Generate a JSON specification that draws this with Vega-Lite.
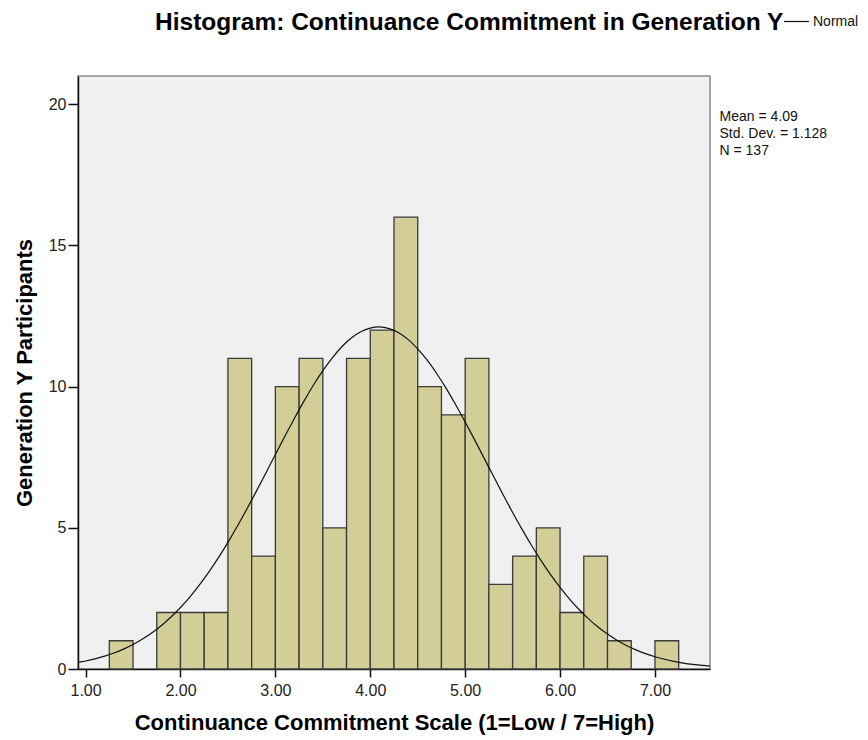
{
  "$schema": "https://vega.github.io/schema/vega-lite/v6.json",
  "autosize": "none",
  "width": 632,
  "height": 593,
  "padding": {"left": 78, "top": 76, "right": 158, "bottom": 71},
  "background": "white",
  "config": {
    "font": "Liberation Sans",
    "view": {"fill": "#f0f0f0", "stroke": "#8a8a8a", "strokeWidth": 1.5},
    "axis": {
      "grid": false,
      "domainColor": "#111",
      "domainWidth": 1.5,
      "tickColor": "#111",
      "tickWidth": 1.5,
      "labelFont": "Liberation Sans",
      "labelFontSize": 16,
      "labelColor": "#222",
      "titleFont": "Liberation Sans",
      "titleFontSize": 22,
      "titleFontWeight": "bold",
      "titleColor": "#000"
    }
  },
  "title": {
    "text": "Histogram: Continuance Commitment in Generation Y",
    "font": "Liberation Sans",
    "fontSize": 24.5,
    "fontWeight": "bold",
    "color": "#000",
    "anchor": "start",
    "frame": "group",
    "dx": 77,
    "dy": 67,
    "offset": 40
  },
  "datasets": {
    "bins": [
      {"bin_start": 1.25, "bin_end": 1.5, "count": 1},
      {"bin_start": 1.75, "bin_end": 2.0, "count": 2},
      {"bin_start": 2.0, "bin_end": 2.25, "count": 2},
      {"bin_start": 2.25, "bin_end": 2.5, "count": 2},
      {"bin_start": 2.5, "bin_end": 2.75, "count": 11},
      {"bin_start": 2.75, "bin_end": 3.0, "count": 4},
      {"bin_start": 3.0, "bin_end": 3.25, "count": 10},
      {"bin_start": 3.25, "bin_end": 3.5, "count": 11},
      {"bin_start": 3.5, "bin_end": 3.75, "count": 5},
      {"bin_start": 3.75, "bin_end": 4.0, "count": 11},
      {"bin_start": 4.0, "bin_end": 4.25, "count": 12},
      {"bin_start": 4.25, "bin_end": 4.5, "count": 16},
      {"bin_start": 4.5, "bin_end": 4.75, "count": 10},
      {"bin_start": 4.75, "bin_end": 5.0, "count": 9},
      {"bin_start": 5.0, "bin_end": 5.25, "count": 11},
      {"bin_start": 5.25, "bin_end": 5.5, "count": 3},
      {"bin_start": 5.5, "bin_end": 5.75, "count": 4},
      {"bin_start": 5.75, "bin_end": 6.0, "count": 5},
      {"bin_start": 6.0, "bin_end": 6.25, "count": 2},
      {"bin_start": 6.25, "bin_end": 6.5, "count": 4},
      {"bin_start": 6.5, "bin_end": 6.75, "count": 1},
      {"bin_start": 7.0, "bin_end": 7.25, "count": 1}
    ],
    "normal": [
      {"score": 0.9, "frequency": 0.222, "series": "Normal"},
      {"score": 1.0, "frequency": 0.284, "series": "Normal"},
      {"score": 1.1, "frequency": 0.361, "series": "Normal"},
      {"score": 1.2, "frequency": 0.455, "series": "Normal"},
      {"score": 1.3, "frequency": 0.568, "series": "Normal"},
      {"score": 1.4, "frequency": 0.705, "series": "Normal"},
      {"score": 1.5, "frequency": 0.868, "series": "Normal"},
      {"score": 1.6, "frequency": 1.06, "series": "Normal"},
      {"score": 1.7, "frequency": 1.284, "series": "Normal"},
      {"score": 1.8, "frequency": 1.543, "series": "Normal"},
      {"score": 1.9, "frequency": 1.84, "series": "Normal"},
      {"score": 2.0, "frequency": 2.177, "series": "Normal"},
      {"score": 2.1, "frequency": 2.556, "series": "Normal"},
      {"score": 2.2, "frequency": 2.976, "series": "Normal"},
      {"score": 2.3, "frequency": 3.439, "series": "Normal"},
      {"score": 2.4, "frequency": 3.944, "series": "Normal"},
      {"score": 2.5, "frequency": 4.486, "series": "Normal"},
      {"score": 2.6, "frequency": 5.063, "series": "Normal"},
      {"score": 2.7, "frequency": 5.669, "series": "Normal"},
      {"score": 2.8, "frequency": 6.299, "series": "Normal"},
      {"score": 2.9, "frequency": 6.943, "series": "Normal"},
      {"score": 3.0, "frequency": 7.595, "series": "Normal"},
      {"score": 3.1, "frequency": 8.241, "series": "Normal"},
      {"score": 3.2, "frequency": 8.873, "series": "Normal"},
      {"score": 3.3, "frequency": 9.479, "series": "Normal"},
      {"score": 3.4, "frequency": 10.047, "series": "Normal"},
      {"score": 3.5, "frequency": 10.564, "series": "Normal"},
      {"score": 3.6, "frequency": 11.022, "series": "Normal"},
      {"score": 3.7, "frequency": 11.411, "series": "Normal"},
      {"score": 3.8, "frequency": 11.719, "series": "Normal"},
      {"score": 3.9, "frequency": 11.942, "series": "Normal"},
      {"score": 4.0, "frequency": 12.074, "series": "Normal"},
      {"score": 4.09, "frequency": 12.113, "series": "Normal"},
      {"score": 4.2, "frequency": 12.056, "series": "Normal"},
      {"score": 4.3, "frequency": 11.905, "series": "Normal"},
      {"score": 4.4, "frequency": 11.664, "series": "Normal"},
      {"score": 4.5, "frequency": 11.339, "series": "Normal"},
      {"score": 4.6, "frequency": 10.936, "series": "Normal"},
      {"score": 4.7, "frequency": 10.466, "series": "Normal"},
      {"score": 4.8, "frequency": 9.936, "series": "Normal"},
      {"score": 4.9, "frequency": 9.36, "series": "Normal"},
      {"score": 5.0, "frequency": 8.748, "series": "Normal"},
      {"score": 5.1, "frequency": 8.113, "series": "Normal"},
      {"score": 5.2, "frequency": 7.464, "series": "Normal"},
      {"score": 5.3, "frequency": 6.814, "series": "Normal"},
      {"score": 5.4, "frequency": 6.172, "series": "Normal"},
      {"score": 5.5, "frequency": 5.545, "series": "Normal"},
      {"score": 5.6, "frequency": 4.945, "series": "Normal"},
      {"score": 5.7, "frequency": 4.374, "series": "Normal"},
      {"score": 5.8, "frequency": 3.839, "series": "Normal"},
      {"score": 5.9, "frequency": 3.343, "series": "Normal"},
      {"score": 6.0, "frequency": 2.889, "series": "Normal"},
      {"score": 6.1, "frequency": 2.476, "series": "Normal"},
      {"score": 6.2, "frequency": 2.106, "series": "Normal"},
      {"score": 6.3, "frequency": 1.777, "series": "Normal"},
      {"score": 6.4, "frequency": 1.488, "series": "Normal"},
      {"score": 6.5, "frequency": 1.236, "series": "Normal"},
      {"score": 6.6, "frequency": 1.019, "series": "Normal"},
      {"score": 6.7, "frequency": 0.833, "series": "Normal"},
      {"score": 6.8, "frequency": 0.676, "series": "Normal"},
      {"score": 6.9, "frequency": 0.544, "series": "Normal"},
      {"score": 7.0, "frequency": 0.434, "series": "Normal"},
      {"score": 7.1, "frequency": 0.344, "series": "Normal"},
      {"score": 7.2, "frequency": 0.271, "series": "Normal"},
      {"score": 7.3, "frequency": 0.211, "series": "Normal"},
      {"score": 7.4, "frequency": 0.164, "series": "Normal"},
      {"score": 7.5, "frequency": 0.126, "series": "Normal"},
      {"score": 7.6, "frequency": 0.096, "series": "Normal"}
    ]
  },
  "layer": [
    {
      "data": {"name": "bins"},
      "mark": {"type": "rect", "fill": "#d3ce97", "stroke": "#3a3a3a", "strokeWidth": 1.3},
      "encoding": {
        "x": {
          "field": "bin_start",
          "type": "quantitative",
          "scale": {"domain": [0.92, 7.58], "nice": false, "zero": false},
          "axis": {
            "values": [1, 2, 3, 4, 5, 6, 7],
            "format": ".2f",
            "tickSize": 8,
            "labelPadding": 5,
            "title": "Continuance Commitment Scale (1=Low / 7=High)",
            "titlePadding": 14
          }
        },
        "x2": {"field": "bin_end"},
        "y": {
          "field": "count",
          "type": "quantitative",
          "scale": {"domain": [0, 21], "nice": false},
          "axis": {
            "values": [0, 5, 10, 15, 20],
            "tickSize": 10,
            "labelPadding": 2,
            "title": "Generation Y Participants",
            "titlePadding": 12
          }
        },
        "y2": {"datum": 0}
      }
    },
    {
      "data": {"name": "normal"},
      "mark": {"type": "line", "clip": true, "strokeWidth": 1.2, "interpolate": "monotone"},
      "encoding": {
        "x": {"field": "score", "type": "quantitative"},
        "y": {"field": "frequency", "type": "quantitative"},
        "color": {
          "field": "series",
          "type": "nominal",
          "scale": {"domain": ["Normal"], "range": ["#111"]},
          "legend": {
            "title": null,
            "orient": "none",
            "legendX": 705,
            "legendY": -68,
            "padding": 0,
            "symbolType": "stroke",
            "symbolSize": 625,
            "symbolStrokeWidth": 1.2,
            "labelFont": "Liberation Sans",
            "labelFontSize": 14,
            "labelColor": "#111",
            "labelOffset": 3
          }
        }
      }
    },
    {
      "data": {"values": [{"mean": 4.09, "sd": 1.128, "n": 137}]},
      "mark": {
        "type": "text",
        "align": "left",
        "baseline": "top",
        "font": "Liberation Sans",
        "fontSize": 14,
        "lineHeight": 17,
        "color": "#111",
        "text": ["Mean = 4.09", "Std. Dev. = 1.128", "N = 137"]
      },
      "encoding": {
        "x": {"datum": 7.68, "type": "quantitative"},
        "y": {"datum": 19.78, "type": "quantitative"}
      }
    }
  ]
}
